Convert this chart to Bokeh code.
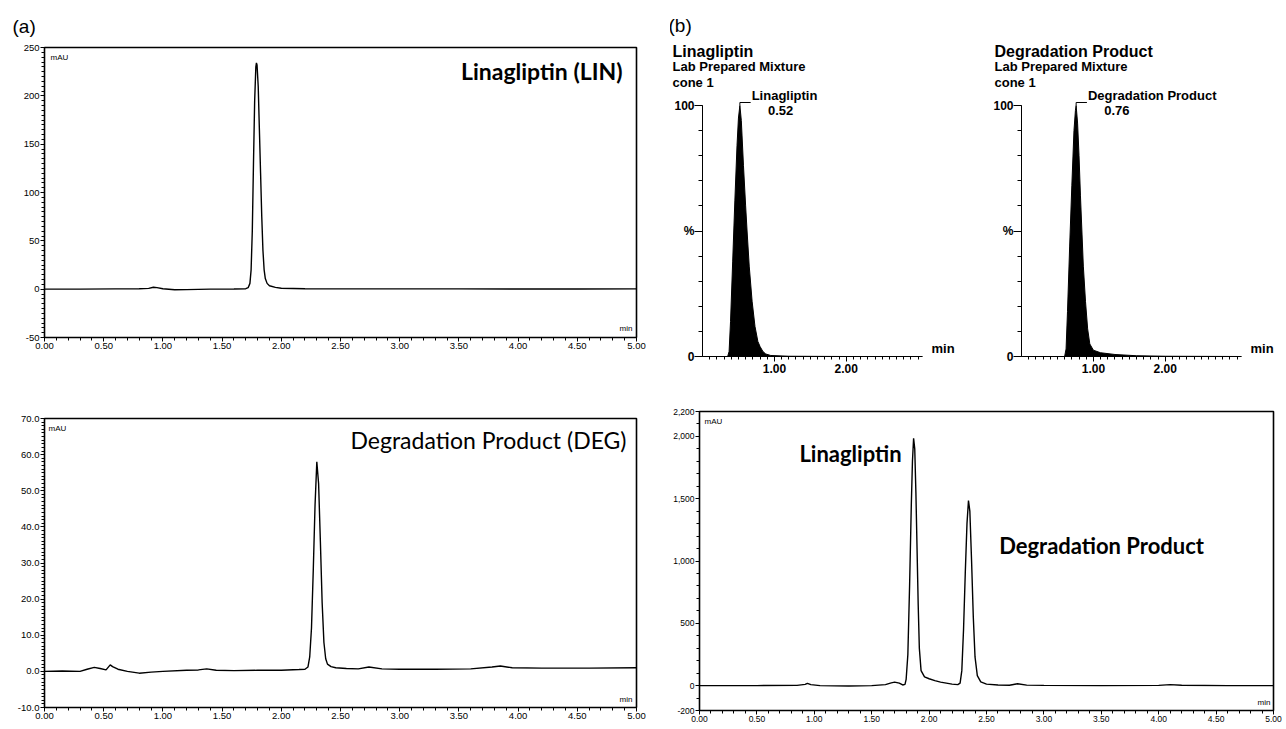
from bokeh.plotting import figure
from bokeh.models import Label, FixedTicker, Range1d, Title
from bokeh.layouts import row, column
from bokeh.embed import file_html
from bokeh.resources import INLINE

# ---------------- data ----------------
# (a) top: Linagliptin (LIN) chromatogram, mAU vs min
lin_t = [0.00, 0.30, 0.60, 0.80, 0.88, 0.92, 0.95, 1.00, 1.10, 1.20, 1.40, 1.60, 1.70, 1.72,
         1.735, 1.745, 1.755, 1.765, 1.775, 1.785, 1.79, 1.795, 1.805, 1.815, 1.825, 1.835,
         1.845, 1.855, 1.865, 1.88, 1.90, 1.95, 2.00, 2.20, 2.60, 3.00, 3.50, 4.00, 4.50, 5.00]
lin_v = [0, 0, 0.3, 0.5, 0.8, 2.0, 1.6, 0.4, -0.6, -0.5, 0, 0.2, 0.5, 1.5,
         6, 20, 60, 130, 195, 230, 234, 232, 210, 165, 120, 75,
         40, 20, 11, 6, 3.5, 1.8, 1.0, 0.5, 0.3, 0.3, 0.3, 0.2, 0.2, 0.3]

# (a) bottom: Degradation Product (DEG) chromatogram
deg_t = [0.00, 0.15, 0.30, 0.36, 0.42, 0.47, 0.52, 0.555, 0.575, 0.62, 0.70, 0.80, 0.90, 1.00,
         1.20, 1.30, 1.37, 1.45, 1.60, 1.80, 2.00, 2.15, 2.20, 2.225, 2.24, 2.255, 2.27, 2.285,
         2.30, 2.315, 2.33, 2.345, 2.36, 2.375, 2.39, 2.42, 2.46, 2.55, 2.65, 2.74, 2.85, 3.00,
         3.30, 3.60, 3.78, 3.85, 3.95, 4.20, 4.60, 5.00]
deg_v = [0.0, 0.1, 0.0, 0.6, 1.1, 0.8, 0.4, 1.8, 1.3, 0.6, 0.0, -0.5, -0.2, 0.0,
         0.3, 0.4, 0.7, 0.3, 0.2, 0.3, 0.3, 0.5, 0.6, 1.2, 4.0, 12.0, 28.0, 46.0,
         58.0, 52.0, 36.0, 19.0, 8.0, 3.5, 2.0, 1.3, 1.0, 0.8, 0.7, 1.2, 0.7, 0.6,
         0.6, 0.7, 1.2, 1.5, 1.0, 0.9, 0.9, 1.0]

# (b) bottom: mixture chromatogram
mix_t = [0.00, 0.50, 0.85, 0.92, 0.94, 0.97, 1.05, 1.30, 1.50, 1.62, 1.67, 1.70, 1.74, 1.77,
         1.79, 1.80, 1.815, 1.83, 1.845, 1.855, 1.865, 1.875, 1.885, 1.895, 1.905, 1.915,
         1.93, 1.96, 2.00, 2.05, 2.10, 2.15, 2.20, 2.25, 2.27, 2.285, 2.30, 2.315, 2.33,
         2.343, 2.355, 2.37, 2.385, 2.40, 2.42, 2.45, 2.50, 2.60, 2.70, 2.77, 2.85, 3.00,
         3.50, 4.00, 4.10, 4.20, 4.60, 5.00]
mix_v = [0, 0, 2, 10, 18, 8, 0, -3, 0, 8, 22, 28, 20, 5,
         10, 50, 250, 800, 1450, 1800, 1985, 1900, 1550, 1100, 650, 300,
         120, 70, 55, 40, 28, 20, 12, 8, 20, 120, 450, 900, 1300,
         1485, 1400, 1000, 550, 230, 80, 30, 12, 5, 3, 15, 4, 2,
         0, 2, 8, 3, 0, 0]

# (b) top: MS ion chromatograms (% vs min)
ms1_t = [0.00, 0.35, 0.37, 0.39, 0.42, 0.45, 0.48, 0.50, 0.52, 0.54, 0.57, 0.60, 0.62, 0.65,
         0.69, 0.73, 0.77, 0.80, 0.84, 0.88, 0.95, 1.20, 2.00, 3.06]
ms1_v = [0, 0, 2, 14, 38, 62, 84, 95, 100, 94, 76, 60, 50, 36,
         22, 12, 6, 4, 2, 1, 0.4, 0.1, 0, 0]
ms2_t = [0.00, 0.60, 0.62, 0.64, 0.67, 0.70, 0.73, 0.75, 0.76, 0.78, 0.80, 0.82, 0.84, 0.86,
         0.89, 0.92, 0.95, 1.00, 1.10, 1.30, 1.60, 2.00, 3.06]
ms2_v = [0, 0, 3, 18, 44, 68, 90, 98, 100, 93, 80, 64, 50, 36,
         22, 11, 5, 2.5, 1.5, 0.8, 0.3, 0.1, 0]
ms_names = ["Linagliptin", "Degradation Product"]
ms_rt_labels = ["0.52", "0.76"]
ms_sample = "Lab Prepared Mixture"
ms_cone = "cone 1"
ms_axis_end = 3.06

# tick values / labels
x_ticks = [0.0, 0.5, 1.0, 1.5, 2.0, 2.5, 3.0, 3.5, 4.0, 4.5, 5.0]
x_labels = ["0.00", "0.50", "1.00", "1.50", "2.00", "2.50", "3.00", "3.50", "4.00", "4.50", "5.00"]
lin_y_ticks = [-50, 0, 50, 100, 150, 200, 250]
lin_y_labels = ["-50", "0", "50", "100", "150", "200", "250"]
deg_y_ticks = [-10, 0, 10, 20, 30, 40, 50, 60, 70]
deg_y_labels = ["-10.0", "0.0", "10.0", "20.0", "30.0", "40.0", "50.0", "60.0", "70.0"]
mix_y_ticks = [-200, 0, 500, 1000, 1500, 2000, 2200]
mix_y_labels = ["-200", "0", "500", "1,000", "1,500", "2,000", "2,200"]
ms_y_ticks = [0, 50, 100]
ms_y_labels = ["0", "%", "100"]
ms_x_ticks = [1, 2]
ms_x_labels = ["1.00", "2.00"]

# ---------------- styling helpers ----------------
ARIAL = "Liberation Sans"
CAL = "Lato"


def slabel(p, fl, ft, fh, xr, yr, text, size, style="normal", font=ARIAL,
           align="left", baseline="middle"):
    """Label in screen px relative to the frame (given in reference-image coords)."""
    p.add_layout(Label(x=xr - fl, y=fh - (yr - ft), x_units="screen", y_units="screen",
                       text=text, text_font=font, text_font_size=f"{size}px",
                       text_font_style=style, text_align=align, text_baseline=baseline,
                       text_color="black"))


def base_fig(fw, fh, bl, br, bt, bb, xr, yr):
    p = figure(frame_width=fw, frame_height=fh, min_border_left=bl, min_border_right=br,
               min_border_top=bt, min_border_bottom=bb, x_range=Range1d(*xr),
               y_range=Range1d(*yr), output_backend="svg", toolbar_location=None)
    p.xgrid.visible = False
    p.ygrid.visible = False
    p.background_fill_color = "white"
    p.border_fill_color = "white"
    return p


def style_axis(ax, size, bold=False, tick_out=5, minor_out=3, standoff=2):
    ax.axis_line_color = "black"
    ax.axis_line_width = 1
    ax.major_tick_line_color = "black"
    ax.minor_tick_line_color = "black"
    ax.major_tick_in = 0
    ax.minor_tick_in = 0
    ax.major_tick_out = tick_out
    ax.minor_tick_out = minor_out
    ax.major_label_standoff = standoff
    ax.major_label_text_font = ARIAL
    ax.major_label_text_font_size = f"{size}px"
    ax.major_label_text_color = "#000000"
    ax.major_label_text_font_style = "bold" if bold else "normal"


def set_title(t, text, size, style="normal", offset=0, standoff=2):
    t.text = text
    t.align = "left"
    t.offset = offset
    t.standoff = standoff
    t.text_font = ARIAL
    t.text_font_size = f"{size}px"
    t.text_font_style = style
    t.text_color = "black"


def chrom(fw, fh, bl, br, bt, bb, yr, t, v, yt, yl, ystep, fsize=9.5):
    p = base_fig(fw, fh, bl, br, bt, bb, (0, 5), yr)
    p.outline_line_color = "black"
    p.outline_line_width = 1.6
    p.line(t, v, line_color="black", line_width=1.4)
    xminor = [i / 10 for i in range(0, 51)]
    p.xaxis.ticker = FixedTicker(ticks=x_ticks, minor_ticks=xminor)
    p.xaxis.major_label_overrides = dict(zip(x_ticks, x_labels))
    n = int(round((yr[1] - yr[0]) / ystep))
    yminor = [yr[0] + i * ystep for i in range(n + 1)]
    p.yaxis.ticker = FixedTicker(ticks=yt, minor_ticks=yminor)
    p.yaxis.major_label_overrides = dict(zip(yt, yl))
    style_axis(p.xaxis[0], fsize, tick_out=4, standoff=1)
    style_axis(p.yaxis[0], fsize, tick_out=4, standoff=1)
    return p


def ms_fig(fw, fh, bl, br, bt, bb, t, v, idx, title_off, with_b=False):
    ymax = 100 * fh / (356 - 105)
    xmax = ms_axis_end * fw / 220
    p = base_fig(fw, fh, bl, br, bt, bb, (0, xmax), (0, ymax))
    p.outline_line_color = None
    p.varea(x=t, y1=0, y2=v, fill_color="black")
    p.line(t, v, line_color="black", line_width=1)
    p.xaxis.ticker = FixedTicker(ticks=ms_x_ticks, minor_ticks=[i / 10 for i in range(1, 31)])
    p.xaxis.major_label_overrides = dict(zip(ms_x_ticks, ms_x_labels))
    p.xaxis.bounds = (0, ms_axis_end)
    p.yaxis.ticker = FixedTicker(ticks=ms_y_ticks, minor_ticks=list(range(0, 101, 10)))
    p.yaxis.major_label_overrides = dict(zip(ms_y_ticks, ms_y_labels))
    p.yaxis.bounds = (0, 100)
    style_axis(p.xaxis[0], 12, bold=True, tick_out=5, minor_out=3)
    style_axis(p.yaxis[0], 12, bold=True, tick_out=8, minor_out=4, standoff=0)
    # peak annotation derived from the data
    k = v.index(max(v))
    pt, pv = t[k], v[k]
    p.line([pt, pt, pt + 0.15], [pv, pv + 1.2, pv + 1.2], line_color="black", line_width=1)
    p.add_layout(Label(x=pt + 0.15, y=pv + 1.2, text=ms_names[idx], x_offset=1, y_offset=-1,
                       text_font=ARIAL, text_font_size="13px", text_font_style="bold",
                       text_color="black", text_baseline="bottom", text_align="left"))
    p.add_layout(Label(x=pt + 0.15, y=pv, text=ms_rt_labels[idx], x_offset=30, y_offset=-5,
                       text_font=ARIAL, text_font_size="13px", text_font_style="bold",
                       text_color="black", text_baseline="middle", text_align="center"))
    # "min" at the end of the time axis (inside the widened frame)
    p.add_layout(Label(x=ms_axis_end, y=0, text="min", x_offset=9, y_offset=1,
                       text_font=ARIAL, text_font_size="13px", text_font_style="bold",
                       text_color="black", text_baseline="bottom", text_align="left"))
    # header lines: stacked titles, nearest the frame added first
    p.title.text = ""
    t1 = Title()
    set_title(t1, ms_cone, 13, "bold", title_off, 1)
    p.add_layout(t1, "above")
    t2 = Title()
    set_title(t2, ms_sample, 13, "bold", title_off, -3)
    p.add_layout(t2, "above")
    t3 = Title()
    set_title(t3, ms_names[idx], 16, "bold", title_off, -2)
    p.add_layout(t3, "above")
    if with_b:
        t4 = Title()
        set_title(t4, "(b)", 19, "normal", title_off - 4, 11)
        p.add_layout(t4, "above")
    return p


# ---------------- left column: (a) ----------------
A1 = chrom(592, 290, 44, 34, 47, 40, (-50, 250), lin_t, lin_v, lin_y_ticks, lin_y_labels, 5)
set_title(A1.title, "(a)", 19, "normal", offset=12 - 44, standoff=21)
slabel(A1, 44, 47, 290, 50, 57, "mAU", 8)
slabel(A1, 44, 47, 290, 622, 70, "Linagliptin (LIN)", 23, "bold", CAL, align="right")
slabel(A1, 44, 47, 290, 632, 328, "min", 8, align="right")

C1 = chrom(592, 289, 44, 34, 41, 20, (-10, 70), deg_t, deg_v, deg_y_ticks, deg_y_labels, 1)
slabel(C1, 44, 418, 289, 48, 428, "mAU", 8)
slabel(C1, 44, 418, 289, 626, 439, "Degradation Product (DEG)", 23, "normal", CAL, align="right")
slabel(C1, 44, 418, 289, 632, 699, "min", 8, align="right")

# ---------------- right column: (b) ----------------
B1 = ms_fig(258, 266, 32, 30, 90, 21, ms1_t, ms1_v, 0, 672 - 702, with_b=True)
B2 = ms_fig(260, 266, 30, 4, 90, 21, ms2_t, ms2_v, 1, 993 - 1020)

C2 = chrom(574, 299, 28, 12, 34, 17, (-200, 2200), mix_t, mix_v, mix_y_ticks, mix_y_labels,
           100, fsize=8.5)
slabel(C2, 698, 411, 299, 703, 421, "mAU", 8)
slabel(C2, 698, 411, 299, 698 + 574 - 3, 411 + 299 - 8, "min", 8, align="right")
C2.add_layout(Label(x=0.87, y=1866, text="Linagliptin", text_font=CAL, text_font_size="22px",
                    text_font_style="bold", text_color="black", text_baseline="middle",
                    text_align="left"))
C2.add_layout(Label(x=2.61, y=1124, text="Degradation Product", text_font=CAL,
                    text_font_size="22px", text_font_style="bold", text_color="black",
                    text_baseline="middle", text_align="left"))

layout = row(column(A1, C1), column(row(B1, B2), C2))

open("out.html", "w").write(file_html(layout, INLINE))
